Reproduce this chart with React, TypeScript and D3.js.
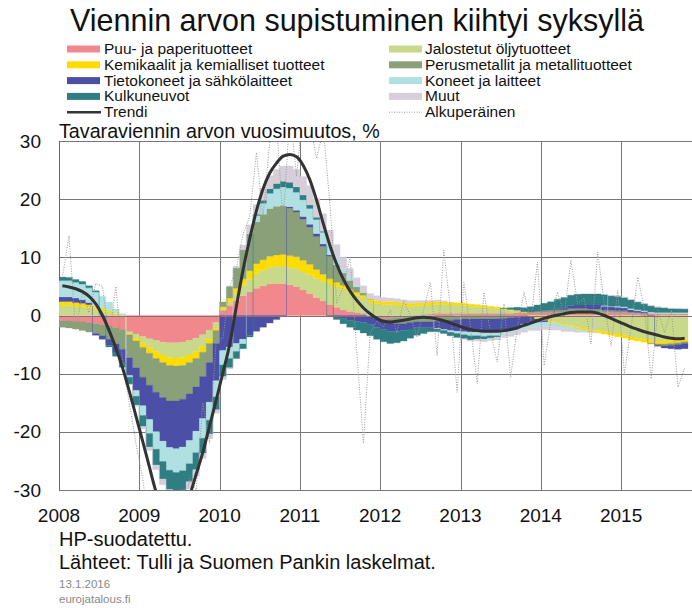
import { useEffect, useRef } from "react";
import * as d3 from "d3";

// monthly contributions, Jan 2008 - Oct 2015 (percentage points)
const puu = [
  -0.9, -0.95, -1.0, -1.1, -1.25, -1.4, -1.6, -1.8, -2.1, -2.4, -2.8, -3.2,
  -3.6, -4.0, -4.3, -4.6, -4.7, -4.7, -4.6, -4.3, -3.9, -3.3, -2.5, -1.2,
  0.9, 1.7, 2.6, 3.4, 4.1, 4.7, 5.1, 5.4, 5.5, 5.5, 5.3, 5.0,
  4.4, 3.8, 3.1, 2.5, 1.9, 1.4, 1.0, 0.7, 0.5, 0.4, -0.2, -0.4,
  -0.5, -0.5, -0.4, -0.3, -0.1, 0.1, 0.2, 0.3, 0.4, 0.4, 0.4, 0.4,
  0.4, 0.4, 0.4, 0.4, 0.4, 0.4, 0.4, 0.4, 0.5, 0.5, 0.5, 0.5,
  0.5, 0.5, 0.5, 0.5, 0.6, 0.6, 0.6, 0.6, 0.6, 0.5, 0.5, 0.5,
  0.5, 0.4, 0.4, 0.4, 0.4, 0.3, 0.3, 0.3, 0.3, 0.3,
];
const jalostetut = [
  1.7, 1.7, 1.6, 1.5, 1.35, 1.2, 0.9, 0.6, 0.3, 0.1, -0.3, -0.7,
  -1.1, -1.5, -1.9, -2.2, -2.5, -2.6, -2.6, -2.5, -2.3, -2.0, -1.6, -1.0,
  0.3, 0.7, 1.2, 1.7, 2.1, 2.5, 2.7, 2.9, 3.0, 3.0, 3.0, 3.1,
  3.1, 3.2, 3.3, 3.4, 3.5, 3.6, 3.6, 3.3, 3.0, 2.6, 2.3, 2.1,
  1.9, 1.9, 1.8, 1.7, 1.6, 1.6, 1.5, 1.5, 1.5, 1.5, 1.4, 1.4,
  1.3, 1.2, 1.1, 1.0, 0.9, 0.8, 0.6, 0.5, 0.3, 0.1, -0.2, -0.5,
  -0.7, -1.0, -1.2, -1.5, -1.7, -2.0, -2.2, -2.4, -2.6, -2.8, -3.0, -3.2,
  -3.4, -3.7, -3.9, -4.1, -4.3, -4.4, -4.4, -4.3, -4.2, -4.0,
];
const kemikaalit = [
  0.7, 0.7, 0.65, 0.6, 0.5, 0.45, 0.4, 0.3, 0.2, 0.0, -0.2, -0.5,
  -0.8, -1.0, -1.2, -1.3, -1.4, -1.4, -1.4, -1.3, -1.2, -1.0, -0.7, -0.4,
  0.3, 0.6, 0.9, 1.2, 1.5, 1.7, 1.8, 1.9, 1.9, 2.0, 2.0, 2.0,
  2.0, 1.8, 1.5, 1.2, 0.9, 0.7, 0.6, 0.5, 0.5, 0.5, 0.5, 0.5,
  0.5, 0.5, 0.5, 0.5, 0.5, 0.5, 0.5, 0.5, 0.45, 0.45, 0.4, 0.4,
  0.4, 0.35, 0.35, 0.3, 0.3, 0.25, 0.2, 0.15, 0.1, 0.05, 0.0, -0.1,
  -0.15, -0.2, -0.2, -0.25, -0.25, -0.3, -0.3, -0.35, -0.35, -0.4, -0.4, -0.45,
  -0.45, -0.5, -0.5, -0.5, -0.5, -0.5, -0.5, -0.5, -0.5, -0.5,
];
const perusmetallit = [
  -1.1, -1.2, -1.3, -1.5, -1.6, -1.7, -1.9, -2.3, -2.8, -3.4, -4.0, -4.6,
  -5.1, -5.5, -5.8, -6.0, -6.1, -6.0, -5.8, -5.4, -4.9, -4.2, -3.3, -2.2,
  0.8, 2.0, 3.5, 5.0, 6.3, 7.2, 7.8, 8.2, 8.4, 8.4, 8.2, 7.7,
  7.1, 6.4, 5.7, 4.8, 3.9, 3.0, 2.1, 1.5, 0.9, 0.4, 0.1, -0.2,
  -0.5, -0.8, -1.0, -1.1, -1.1, -1.1, -1.1, -1.1, -1.0, -0.9, -0.8, -0.7,
  -0.6, -0.6, -0.6, -0.6, -0.6, -0.6, -0.5, -0.4, -0.3, -0.1, 0.1, 0.2,
  0.3, 0.4, 0.5, 0.5, 0.6, 0.6, 0.6, 0.5, 0.5, 0.4, 0.4, 0.3,
  0.3, 0.2, 0.1, 0.0, -0.1, -0.2, -0.3, -0.3, -0.3, -0.3,
];
const tietokoneet = [
  0.8, 0.8, 0.75, 0.6, 0.4, -0.3, -0.6, -1.0, -1.5, -2.2, -3.0, -3.9,
  -4.9, -5.9, -6.8, -7.5, -8.0, -8.2, -8.2, -8.0, -7.6, -7.2, -6.8, -6.4,
  -6.0, -5.4, -4.8, -4.1, -3.4, -2.7, -2.0, -1.3, -0.7, -0.2, 0.2, 0.3,
  0.4, 0.5, 0.5, 0.4, 0.2, -0.2, -0.5, -0.8, -1.0, -1.2, -1.3, -1.4,
  -1.4, -1.4, -1.3, -1.2, -1.1, -1.0, -1.0, -1.0, -1.2, -1.5, -1.8, -2.0,
  -2.2, -2.3, -2.3, -2.3, -2.2, -2.1, -2.0, -1.9, -1.7, -1.4, -1.0, -0.6,
  -0.3, 0.0, 0.2, 0.4, 0.5, 0.6, 0.6, 0.7, 0.7, 0.7, 0.6, 0.6,
  0.5, 0.4, 0.3, 0.2, 0.0, -0.2, -0.4, -0.6, -0.8, -0.9,
];
const koneet = [
  2.8, 2.8, 2.7, 2.7, 2.5, 2.4, 2.0, 1.4, 0.6, 0.2, -0.3, -1.0,
  -1.7, -2.4, -3.0, -3.5, -3.9, -4.1, -4.1, -4.0, -3.7, -3.4, -3.1, -2.8,
  -2.5, -2.0, -1.4, -0.8, 0.3, 1.1, 1.9, 2.6, 3.0, 3.2, 3.2, 3.1,
  2.9, 2.7, 2.4, 2.0, 1.6, 1.2, 0.8, 0.5, 0.3, 0.1, 0.0, 0.0,
  0.0, 0.0, 0.0, 0.0, 0.0, 0.0, 0.0, 0.0, -0.1, -0.2, -0.3, -0.4,
  -0.5, -0.6, -0.6, -0.7, -0.7, -0.8, -0.8, -0.8, -0.8, -0.8, -0.8, -0.8,
  -0.7, -0.7, -0.6, -0.5, -0.4, -0.3, -0.2, -0.1, 0.0, 0.1, 0.1, 0.2,
  0.2, 0.2, 0.2, 0.2, 0.2, 0.2, 0.2, 0.2, 0.2, 0.2,
];
const kulkuneuvot = [
  0.6, 0.55, 0.5, 0.45, 0.35, 0.2, 0.0, -0.3, -0.6, -0.9, -1.2, -1.5,
  -1.9, -2.3, -2.7, -3.0, -3.3, -3.4, -3.3, -3.1, -2.9, -2.6, -2.4, -2.2,
  -2.0, -1.6, -1.2, -0.8, -0.3, 0.2, 0.5, 0.8, 0.9, 1.0, 1.0, 0.9,
  0.8, 0.6, 0.4, 0.2, -0.2, -0.5, -0.9, -1.2, -1.5, -1.8, -2.0, -2.1,
  -2.1, -2.1, -2.0, -1.8, -1.6, -1.3, -1.0, -0.7, -0.5, -0.5, -0.6, -0.7,
  -0.7, -0.7, -0.6, -0.5, -0.4, -0.2, 0.1, 0.3, 0.5, 0.7, 0.9, 1.1,
  1.3, 1.45, 1.6, 1.7, 1.8, 1.85, 1.9, 1.9, 1.9, 1.85, 1.8, 1.7,
  1.6, 1.5, 1.3, 1.2, 1.05, 0.9, 0.8, 0.7, 0.65, 0.6,
];
const muut = [
  0, 0, 0, 0, 0, 0, 0, 0, 0, 0, -0.1, -0.2,
  -0.4, -0.6, -0.8, -1.0, -1.2, -1.3, -1.3, -1.2, -1.1, -0.9, -0.8, -0.6,
  -0.5, -0.2, 0.3, 0.8, 1.3, 1.7, 2.0, 2.2, 2.4, 2.6, 2.8, 3.0,
  3.2, 3.3, 3.2, 3.0, 2.7, 2.3, 1.9, 1.6, 1.3, 1.1, 0.9, 0.8,
  0.7, 0.6, 0.6, 0.5, 0.5, 0.4, 0.4, 0.3, 0.3, 0.2, 0.1, 0.0,
  -0.1, -0.2, -0.3, -0.4, -0.4, -0.5, -0.5, -0.5, -0.5, -0.6, -0.6, -0.6,
  -0.6, -0.6, -0.5, -0.5, -0.4, -0.3, -0.2, -0.1, 0.0, 0.0, 0.1, 0.1,
  0.1, 0.1, 0.1, 0.1, 0.1, 0.1, 0.1, 0.1, 0.1, 0.1,
];
const trendi = [
  5.1, 4.9, 4.6, 4.1, 3.3, 2.0, 0.0, -2.6, -5.6, -9.0, -13.0, -17.3,
  -21.6, -26.0, -30.3, -33.0, -34.3, -34.5, -33.5, -31.0, -27.3, -23.5, -19.0, -14.5,
  -9.8, -5.0, 1.5, 7.8, 13.2, 18.0, 21.8, 24.5, 26.2, 27.4, 27.7, 27.3,
  25.8, 23.3, 19.8, 15.8, 12.0, 8.8, 6.2, 4.2, 2.6, 1.3, 0.3, -0.5,
  -1.0, -1.1, -1.0, -0.8, -0.6, -0.4, -0.3, -0.4, -0.6, -0.9, -1.3, -1.7,
  -2.1, -2.4, -2.6, -2.7, -2.7, -2.7, -2.6, -2.4, -2.1, -1.7, -1.3, -0.9,
  -0.5, -0.2, 0.1, 0.3, 0.5, 0.6, 0.6, 0.6, 0.4, 0.0, -0.5, -1.0,
  -1.5, -2.0, -2.4, -2.8, -3.1, -3.4, -3.7, -3.9, -4.0, -3.9,
];
const alkuperainen = [
  6.5, 13.7, -2.5, 4, 0.5, 5.5, 5, -4, 5, -8, -15, -22,
  -28, -36, -33, -40, -38, -42, -36, -28, -30, -15, -22, -4,
  -4, 5, 8, 14, 17, 28, 17, 30, 33, 16, 35, 24,
  36, 33, 27, 32, 19, 2, 5, 10, -6, -22, -3, -1,
  -2, 1, -3, 2.6, 0, -3.7, 1, 5.7, -6.9, 11.2, 1, -13.2,
  5.7, -2, -11.7, 4, -3, -8, 2, -10.6, -2, 4, -1, 9.2,
  -8.6, -1, 4, 0, 9.5, 2, 3, -4.9, 10.9, 2, -5.2, 4.3,
  -10, -2, 6.6, 1, -10.9, 0.9, -3, 1, -12.3, -9,
];

const years = [2008, 2009, 2010, 2011, 2012, 2013, 2014, 2015];
const yTicks = [30, 20, 10, 0, -10, -20, -30];

const seriesInfo = [
  { key: "puu", name: "Puu- ja paperituotteet", color: "#f0888e", values: puu },
  { key: "jalostetut", name: "Jalostetut öljytuotteet", color: "#c8d98a", values: jalostetut },
  { key: "kemikaalit", name: "Kemikaalit ja kemialliset tuotteet", color: "#ffdc00", values: kemikaalit },
  { key: "perusmetallit", name: "Perusmetallit ja metallituotteet", color: "#89a079", values: perusmetallit },
  { key: "tietokoneet", name: "Tietokoneet ja sähkölaitteet", color: "#4b4fa6", values: tietokoneet },
  { key: "koneet", name: "Koneet ja laitteet", color: "#b0e0e2", values: koneet },
  { key: "kulkuneuvot", name: "Kulkuneuvot", color: "#2f7e84", values: kulkuneuvot },
  { key: "muut", name: "Muut", color: "#d6cfd9", values: muut },
];

const legendLeft = ["puu", "kemikaalit", "tietokoneet", "kulkuneuvot"];
const legendRight = ["jalostetut", "perusmetallit", "koneet", "muut"];

const FONT = "Arial, 'Liberation Sans', sans-serif";

export default function App() {
  const ref = useRef<SVGSVGElement>(null);

  useEffect(() => {
    const svg = d3.select(ref.current);
    svg.selectAll("*").remove();

    const left = 59, top = 141, bottom = 490, right = 692;
    const x = d3.scaleLinear().domain([0, 96]).range([left, left + 8 * 80.3]);
    const y = d3.scaleLinear().domain([-30, 30]).range([bottom, top]);
    const grid = "#777";

    svg.append("rect").attr("width", 692).attr("height", 608).attr("fill", "#fff");

    // title
    svg.append("text")
      .attr("x", 357).attr("y", 31)
      .attr("text-anchor", "middle")
      .attr("font-family", FONT).attr("font-size", 30.5)
      .attr("fill", "#111")
      .text("Viennin arvon supistuminen kiihtyi syksyllä");

    // legend
    const legend = svg.append("g").attr("font-family", FONT).attr("font-size", 15.5).attr("fill", "#111");
    const rowY = (i: number) => 49 + i * 15.8;
    const drawCol = (keys: string[], sx: number, tx: number) => {
      keys.forEach((k, i) => {
        const s = seriesInfo.find(d => d.key === k)!;
        legend.append("rect").attr("x", sx).attr("y", rowY(i) - 3.5).attr("width", 33).attr("height", 7).attr("fill", s.color);
        legend.append("text").attr("x", tx).attr("y", rowY(i) + 5).text(s.name);
      });
    };
    drawCol(legendLeft, 67, 104);
    drawCol(legendRight, 389, 425);
    legend.append("line").attr("x1", 67).attr("x2", 101).attr("y1", rowY(4)).attr("y2", rowY(4))
      .attr("stroke", "#333").attr("stroke-width", 2.5);
    legend.append("text").attr("x", 104).attr("y", rowY(4) + 5).text("Trendi");
    legend.append("line").attr("x1", 389).attr("x2", 422).attr("y1", rowY(4)).attr("y2", rowY(4))
      .attr("stroke", "#999").attr("stroke-width", 1).attr("stroke-dasharray", "1,1.5");
    legend.append("text").attr("x", 425).attr("y", rowY(4) + 5).text("Alkuperäinen");

    // axis title
    svg.append("text")
      .attr("x", left).attr("y", 138)
      .attr("font-family", FONT).attr("font-size", 19.7).attr("fill", "#111")
      .text("Tavaraviennin arvon vuosimuutos, %");

    // grid
    const g = svg.append("g");
    yTicks.forEach(t => {
      const yy = Math.round(y(t)) + 0.5;
      g.append("line").attr("x1", left).attr("x2", right).attr("y1", yy).attr("y2", yy)
        .attr("stroke", grid).attr("stroke-width", 1);
    });
    years.forEach((yr, i) => {
      const xx = Math.round(x(i * 12)) + 0.5;
      g.append("line").attr("x1", xx).attr("x2", xx).attr("y1", top).attr("y2", bottom)
        .attr("stroke", grid).attr("stroke-width", 1);
    });

    // stacked contributions
    const n = puu.length;
    const rows = d3.range(n).map(i => {
      const r: Record<string, number> = {};
      seriesInfo.forEach(s => { r[s.key] = s.values[i]; });
      return r;
    });
    const stacked = d3.stack<Record<string, number>>()
      .keys(seriesInfo.map(s => s.key))
      .offset(d3.stackOffsetDiverging)(rows);

    svg.append("defs").append("clipPath").attr("id", "plot")
      .append("rect").attr("x", left).attr("y", top).attr("width", right - left).attr("height", bottom - top);

    const plot = svg.append("g").attr("clip-path", "url(#plot)");

    const area = d3.area<{ i: number; y0: number; y1: number }>()
      .x(d => x(d.i))
      .y0(d => y(d.y0))
      .y1(d => y(d.y1))
      .curve(d3.curveStepAfter);

    stacked.forEach((layer, li) => {
      const pts = layer.map((d, i) => ({ i, y0: d[0], y1: d[1] }));
      pts.push({ ...pts[pts.length - 1], i: n });
      plot.append("path")
        .datum(pts)
        .attr("d", area)
        .attr("fill", seriesInfo[li].color)
        .attr("stroke", seriesInfo[li].color)
        .attr("stroke-width", 0.3);
    });

    // zero line
    const y0 = Math.round(y(0)) + 0.5;
    plot.append("line").attr("x1", left).attr("x2", right).attr("y1", y0).attr("y2", y0)
      .attr("stroke", "#8a6d6d").attr("stroke-width", 1);

    // original series
    const line = d3.line<number>()
      .x((_, i) => x(i + 0.5))
      .y(d => y(d));
    plot.append("path")
      .datum(alkuperainen)
      .attr("d", line)
      .attr("fill", "none")
      .attr("stroke", "#999")
      .attr("stroke-width", 1)
      .attr("stroke-dasharray", "1,1.5");

    // trend
    plot.append("path")
      .datum(trendi)
      .attr("d", line.curve(d3.curveMonotoneX))
      .attr("fill", "none")
      .attr("stroke", "#333")
      .attr("stroke-width", 3);

    // left axis line
    g.append("line").attr("x1", left + 0.5).attr("x2", left + 0.5).attr("y1", top).attr("y2", bottom)
      .attr("stroke", "#666");

    // tick labels
    const labels = svg.append("g").attr("font-family", FONT).attr("font-size", 19).attr("fill", "#111");
    yTicks.forEach(t => {
      labels.append("text").attr("x", 41).attr("y", y(t) + 6.5).attr("text-anchor", "end").text(t);
    });
    years.forEach((yr, i) => {
      labels.append("text").attr("x", x(i * 12)).attr("y", 522).attr("text-anchor", "middle").text(yr);
    });

    // footer
    const foot = svg.append("g").attr("font-family", FONT).attr("fill", "#111");
    foot.append("text").attr("x", left).attr("y", 546).attr("font-size", 20).text("HP-suodatettu.");
    foot.append("text").attr("x", left).attr("y", 569).attr("font-size", 20).text("Lähteet: Tulli ja Suomen Pankin laskelmat.");
    foot.append("text").attr("x", left).attr("y", 588).attr("font-size", 11.5).attr("fill", "#888").text("13.1.2016");
    foot.append("text").attr("x", left).attr("y", 603).attr("font-size", 11.5).attr("fill", "#888").text("eurojatalous.fi");
  }, []);

  return (
    <svg
      ref={ref}
      width={692}
      height={608}
      style={{ position: "absolute", left: 0, top: 0 }}
    />
  );
}
